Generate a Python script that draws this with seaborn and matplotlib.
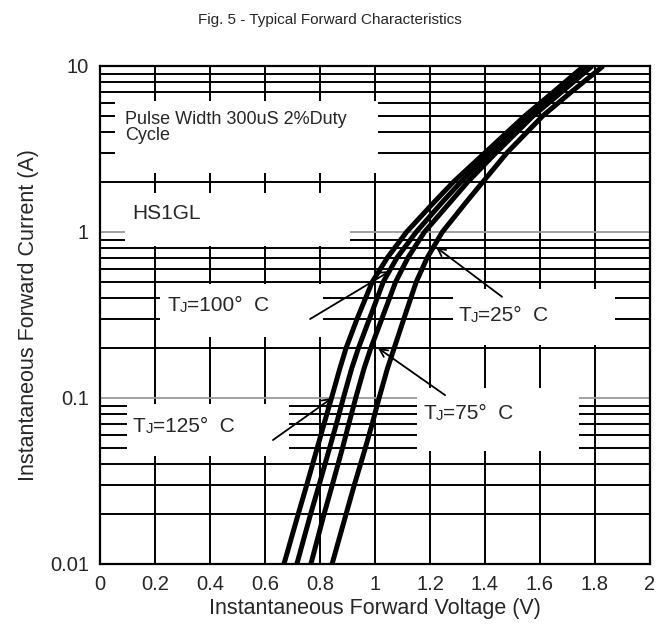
import numpy as np
import pandas as pd
import matplotlib
matplotlib.use("Agg")
import matplotlib.pyplot as plt
import matplotlib.ticker as mticker
from matplotlib.patches import Rectangle
import seaborn as sns

sns.set_style("white")
plt.rcParams['font.family'] = ['Liberation Sans', 'DejaVu Sans']

current = [0.01, 0.02, 0.03, 0.05, 0.07, 0.1, 0.15, 0.2, 0.3, 0.5, 0.7,
           1, 1.5, 2, 3, 5, 7, 10]
# forward voltage (V) per junction temperature
v_125 = [0.669, 0.721, 0.752, 0.790, 0.815, 0.842, 0.872, 0.895, 0.935,
         0.990, 1.045, 1.115, 1.213, 1.285, 1.400, 1.545, 1.650, 1.760]
v_100 = [0.716, 0.766, 0.797, 0.835, 0.860, 0.885, 0.915, 0.940, 0.980,
         1.030, 1.080, 1.150, 1.243, 1.312, 1.420, 1.560, 1.665, 1.775]
v_75 = [0.767, 0.815, 0.845, 0.882, 0.905, 0.930, 0.960, 0.985, 1.025,
        1.075, 1.120, 1.180, 1.272, 1.337, 1.440, 1.575, 1.680, 1.790]
v_25 = [0.844, 0.895, 0.925, 0.965, 0.990, 1.015, 1.045, 1.070, 1.105,
        1.150, 1.190, 1.245, 1.330, 1.392, 1.480, 1.610, 1.715, 1.830]

x_ticks = [0, 0.2, 0.4, 0.6, 0.8, 1, 1.2, 1.4, 1.6, 1.8, 2]
x_labels = ["0", "0.2", "0.4", "0.6", "0.8", "1", "1.2", "1.4", "1.6", "1.8", "2"]
y_ticks = [0.01, 0.1, 1, 10]
y_labels = ["0.01", "0.1", "1", "10"]

rows = []
for tj, vs in [("125", v_125), ("100", v_100), ("75", v_75), ("25", v_25)]:
    for v, i in zip(vs, current):
        rows.append({"V": v, "I": i, "Tj": tj})
df = pd.DataFrame(rows)

fig = plt.figure(figsize=(6.59, 6.38), dpi=100)
ax = fig.add_axes([0.1517, 0.116, 0.8346, 0.7806])

sns.lineplot(data=df, x="V", y="I", hue="Tj", palette=["black"] * 4,
             estimator=None, sort=False, legend=False, linewidth=3.6,
             solid_capstyle="butt", solid_joinstyle="round", ax=ax, zorder=3)

ax.set_yscale("log")
ax.set_xlim(0, 2)
ax.set_ylim(0.01, 10)
ax.set_xticks(x_ticks)
ax.set_xticklabels(x_labels)
ax.set_yticks(y_ticks)
ax.set_yticklabels(y_labels)
ax.yaxis.set_minor_locator(mticker.LogLocator(base=10, subs=np.arange(2, 10)))
ax.yaxis.set_minor_formatter(mticker.NullFormatter())
ax.tick_params(which="both", length=0, labelsize=14.5, pad=8)

ax.set_axisbelow(True)
ax.grid(axis="x", which="major", color="black", lw=1.4)
ax.grid(axis="y", which="minor", color="black", lw=1.4)
ax.grid(axis="y", which="major", color="#9a9a9a", lw=1.3)
for s in ax.spines.values():
    s.set_color("black")
    s.set_linewidth(1.6)

# white label boxes that blank out the grid (data coords)
boxes = [
    (0.055, 2.27, 1.011 - 0.055, 6.15),
    (0.091, 0.824, 0.909 - 0.091, 1.72),
    (0.218, 0.233, 0.811 - 0.218, 0.486),
    (1.284, 0.209, 1.873 - 1.284, 0.454),
    (1.153, 0.048, 1.742 - 1.153, 0.115),
    (0.098, 0.0448, 0.687 - 0.098, 0.092),
]
for x0, y0, w, y1 in boxes:
    ax.add_patch(Rectangle((x0, y0), w, y1 - y0, facecolor="white",
                           edgecolor="none", zorder=1))

fs = 15
ax.text(0.091, 4.25, "Pulse Width 300uS 2%Duty\nCycle", fontsize=13,
        va="center", ha="left", linespacing=0.95, zorder=4)
ax.text(0.116, 1.29, "HS1GL", fontsize=fs, va="center", ha="left", zorder=4)


def tj_label(x, y, temp):
    t = ax.text(x, y, "T", fontsize=fs, va="bottom", ha="left", zorder=4)
    j = ax.annotate("J", xy=(1, 0), xycoords=t, fontsize=fs * 0.72,
                    va="bottom", ha="left", zorder=4)
    ax.annotate("=" + temp + "°  C", xy=(1, 0), xycoords=j, fontsize=fs,
                va="bottom", ha="left", zorder=4)


tj_label(0.244, 0.317, "100")
tj_label(1.302, 0.277, "25")
tj_label(1.175, 0.0705, "75")
tj_label(0.120, 0.0592, "125")

arrows = [
    ((0.764, 0.299), (1.055, 0.582)),
    ((0.629, 0.0558), (0.844, 0.1)),
    ((1.462, 0.407), (1.222, 0.81)),
    ((1.255, 0.104), (1.011, 0.2)),
]
for start, tip in arrows:
    ax.annotate("", xy=tip, xytext=start,
                arrowprops=dict(arrowstyle="->", color="black", lw=1.3,
                                shrinkA=0, shrinkB=0, mutation_scale=14),
                zorder=5)

ax.set_xlabel("Instantaneous Forward Voltage (V)", fontsize=15.5, labelpad=3)
ax.set_ylabel("Instantaneous Forward Current (A)", fontsize=15.5, labelpad=8)
fig.text(0.5, 0.968, "Fig. 5 - Typical Forward Characteristics", fontsize=11,
         ha="center", va="center")

fig.savefig("out.png", dpi=100)
